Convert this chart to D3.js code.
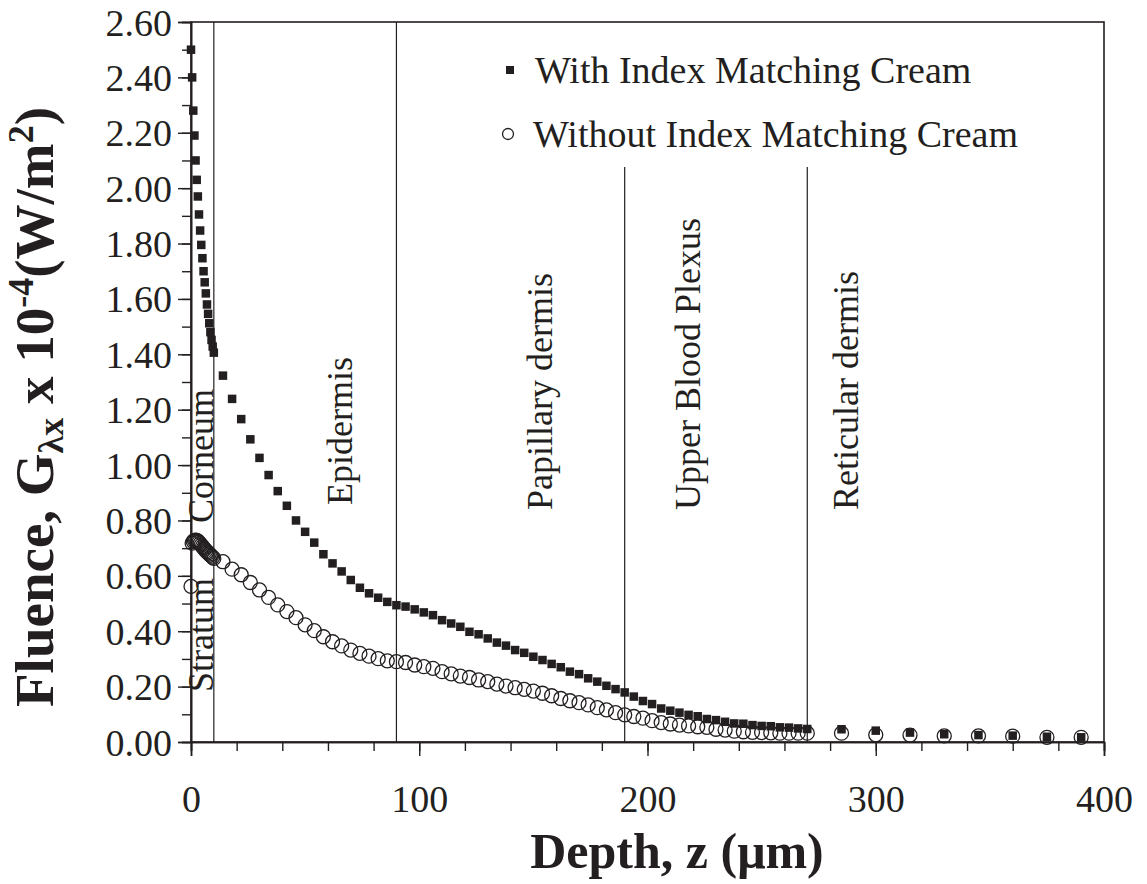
<!DOCTYPE html>
<html><head><meta charset="utf-8">
<script src="https://cdn.jsdelivr.net/npm/d3@7"></script>
<style>body{margin:0;background:#fff}svg{display:block}</style>
</head><body>
<svg id="chart" width="1147" height="884"></svg>
<script>
// ---------- data ----------
const depth = [0,0.5,1,1.5,2,2.5,3,3.5,4,4.5,5,5.5,6,6.5,7,7.5,8,8.5,9,9.5,10,
  14,18,22,26,30,34,38,42,46,50,54,58,62,66,70,74,78,82,86,90,94,98,102,106,110,114,118,122,126,130,
  134,138,142,146,150,154,158,162,166,170,174,178,182,186,190,194,198,202,206,210,214,218,222,226,230,
  234,238,242,246,250,254,258,262,266,270,285,300,315,330,345,360,375,390];
const withCream = [2.50,2.40,2.28,2.19,2.10,2.03,1.97,1.905,1.847,1.795,1.747,1.70,1.66,1.62,1.58,1.546,1.512,1.48,1.452,1.428,1.406,
  1.323,1.239,1.166,1.093,1.026,0.964,0.906,0.853,0.80,0.759,0.72,0.678,0.645,0.616,0.585,0.557,0.537,0.521,0.506,0.494,0.489,0.479,0.468,0.458,0.44,0.428,0.416,0.398,0.389,0.374,
  0.359,0.348,0.332,0.322,0.308,0.296,0.282,0.27,0.254,0.245,0.23,0.218,0.203,0.191,0.179,0.164,0.148,0.137,0.121,0.113,0.106,0.098,0.093,0.083,0.079,
  0.073,0.067,0.066,0.061,0.058,0.057,0.053,0.052,0.049,0.047,0.046,0.041,0.034,0.028,0.025,0.023,0.019,0.017];
const withoutCream = [0.562,0.718,0.724,0.728,0.729,0.728,0.725,0.721,0.716,0.711,0.706,0.701,0.696,0.691,0.687,0.683,0.679,0.675,0.671,0.667,0.663,
  0.651,0.624,0.604,0.576,0.549,0.522,0.495,0.471,0.449,0.423,0.402,0.38,0.362,0.347,0.332,0.32,0.31,0.301,0.293,0.29,0.287,0.278,0.272,0.266,0.254,0.246,0.238,0.233,0.224,0.218,
  0.209,0.202,0.196,0.19,0.184,0.176,0.167,0.157,0.149,0.142,0.134,0.124,0.116,0.106,0.098,0.092,0.086,0.077,0.07,0.065,0.061,0.058,0.055,0.053,0.046,
  0.043,0.039,0.037,0.035,0.034,0.033,0.032,0.032,0.032,0.032,0.032,0.026,0.025,0.022,0.022,0.021,0.017,0.017];
const seriesNames = ["With Index Matching Cream","Without Index Matching Cream"];
const xTickLabels = [0,100,200,300,400];
const xMinorTicks = [0,20,40,60,80,100,120,140,160,180,200,220,240,260,280,300,320,340,360,380,400];
const yTickLabels = [0,0.2,0.4,0.6,0.8,1.0,1.2,1.4,1.6,1.8,2.0,2.2,2.4,2.6];
const yMinorTicks = [0,0.1,0.2,0.3,0.4,0.5,0.6,0.7,0.8,0.9,1.0,1.1,1.2,1.3,1.4,1.5,1.6,1.7,1.8,1.9,2.0,2.1,2.2,2.3,2.4,2.5,2.6];
const layerBounds = [10,90,190,270];
const layerNames = ["Stratum","Corneum","Epidermis","Papillary dermis","Upper Blood Plexus","Reticular dermis"];

// ---------- chart ----------
const svg = d3.select("#chart");
const serif = "'Liberation Serif','Times New Roman',Times,serif";
const ink = "#231f20";
const L=191, R=1104, T=22, B=742;
const x = d3.scaleLinear().domain([0,400]).range([L,R]);
const y = d3.scaleLinear().domain([0,2.6]).range([B,T]);

// frame
svg.append("rect").attr("x",L).attr("y",T).attr("width",R-L).attr("height",B-T)
  .attr("fill","none").attr("stroke",ink).attr("stroke-width",1.6);

// layer boundary lines
const lineTop = [T,T,167,167];
svg.selectAll("line.layer").data(layerBounds).join("line")
  .attr("x1",d=>x(d)).attr("x2",d=>x(d))
  .attr("y1",(d,i)=>lineTop[i]).attr("y2",B)
  .attr("stroke",ink).attr("stroke-width",1.2);

// axes
const xMinor = svg.append("g").attr("transform",`translate(0,${B})`)
  .call(d3.axisBottom(x).tickValues(xMinorTicks).tickSize(9).tickFormat(""));
const xMajor = svg.append("g").attr("transform",`translate(0,${B})`)
  .call(d3.axisBottom(x).tickValues(xTickLabels).tickSize(14).tickFormat(d3.format("d")));
xMajor.selectAll("text").attr("y",70).attr("dy",0)
  .attr("font-family",serif).attr("font-size",38).attr("fill",ink);

const yMinor = svg.append("g").attr("transform",`translate(${L},0)`)
  .call(d3.axisLeft(y).tickValues(yMinorTicks).tickSize(9).tickFormat(""));
const yMajor = svg.append("g").attr("transform",`translate(${L},0)`)
  .call(d3.axisLeft(y).tickValues(yTickLabels).tickSize(13).tickFormat(d3.format(".2f")));
yMajor.selectAll("text").attr("x",-19).attr("dy",0).attr("y",13)
  .attr("font-family",serif).attr("font-size",38).attr("fill",ink);
[xMinor,xMajor,yMinor,yMajor].forEach(g=>{
  g.select(".domain").attr("stroke",ink).attr("stroke-width",1.6);
  g.selectAll(".tick line").attr("stroke",ink).attr("stroke-width",1.4);
});

// layer labels (rotated)
const labelX = [213,213,352,552,700,858];
const labelY = [692,523,505,510,510,510];
svg.selectAll("text.layerlab").data(layerNames).join("text")
  .attr("class","layerlab")
  .attr("transform",(d,i)=>`translate(${labelX[i]},${labelY[i]}) rotate(-90)`)
  .attr("font-family",serif).attr("font-size",36).attr("fill",ink)
  .text(d=>d);

// data
const pts = depth.map((d,i)=>({d, w:withCream[i], wo:withoutCream[i]}));
svg.append("g").selectAll("circle").data(pts).join("circle")
  .attr("cx",p=>x(p.d)).attr("cy",p=>y(p.wo)).attr("r",7)
  .attr("fill","none").attr("stroke",ink).attr("stroke-width",1.3);
const sq = 8.5;
svg.append("g").selectAll("rect").data(pts).join("rect")
  .attr("x",p=>x(p.d)-sq/2).attr("y",p=>y(p.w)-sq/2).attr("width",sq).attr("height",sq)
  .attr("fill",ink);

// legend
const lg = svg.append("g");
lg.append("rect").attr("x",506).attr("y",66).attr("width",8).attr("height",8).attr("fill",ink);
lg.append("circle").attr("cx",508).attr("cy",134).attr("r",5.5).attr("fill","none").attr("stroke",ink).attr("stroke-width",1.3);
lg.selectAll("text").data(seriesNames).join("text")
  .attr("x",(d,i)=>i===0?535:533).attr("y",(d,i)=>i===0?83:147)
  .attr("font-family",serif).attr("font-size",38).attr("fill",ink).text(d=>d);

// axis titles
const yt = svg.append("text")
  .attr("transform","translate(53,407) rotate(-90)")
  .attr("text-anchor","middle").attr("font-family",serif).attr("font-weight","bold")
  .attr("font-size",55).attr("fill",ink);
yt.append("tspan").text("Fluence, G");
yt.append("tspan").attr("dy",10).attr("font-size",36).text("λx");
yt.append("tspan").attr("dy",-10).text(" x 10");
yt.append("tspan").attr("dy",-20).attr("font-size",36).text("-4");
yt.append("tspan").attr("dy",20).text("(W/m");
yt.append("tspan").attr("dy",-20).attr("font-size",36).text("2");
yt.append("tspan").attr("dy",20).text(")");

svg.append("text").attr("x",677).attr("y",868).attr("text-anchor","middle")
  .attr("font-family",serif).attr("font-weight","bold").attr("font-size",50).attr("fill",ink)
  .text("Depth, z (μm)");
</script>
</body></html>
